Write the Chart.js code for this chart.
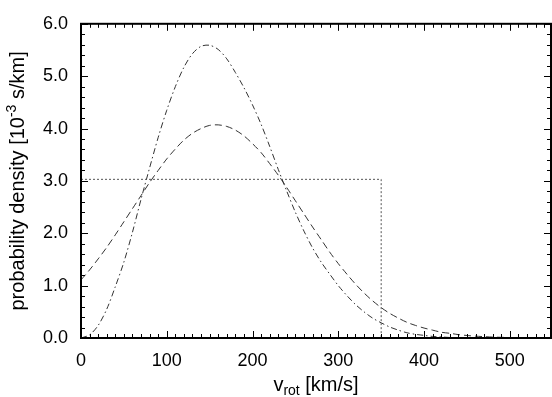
<!DOCTYPE html>
<html>
<head>
<meta charset="utf-8">
<script src="https://cdn.jsdelivr.net/npm/chart.js@4.4.0/dist/chart.umd.min.js"></script>
<style>
    html, body { margin: 0; padding: 0; background: #fff; }
    #wrap { width: 552px; height: 397px; position: relative; }
</style>
</head>
<body>
<div id="wrap"><canvas id="grafico"></canvas></div>
<script>
// ============================================================
//  DADOS (densidade em 10^-3 s/km)
// ============================================================

const velocidades = [0, 10, 20, 30, 40, 50, 60, 70, 80, 90,
    100, 110, 120, 130, 140, 150, 160, 170, 180, 190,
    200, 210, 220, 230, 240, 250, 260, 270, 280, 290,
    300, 310, 320, 330, 340, 350, 360, 370, 380, 390,
    400, 410, 420, 430, 440, 450, 460, 470, 480, 490, 500];

// curva tracejada (larga)
const densidadeLarga = [1.11, 1.30, 1.51, 1.73, 1.97, 2.22, 2.47, 2.72, 2.97, 3.20,
    3.42, 3.61, 3.78, 3.91, 4.00, 4.06, 4.07, 4.04, 3.97, 3.86,
    3.71, 3.54, 3.33, 3.11, 2.87, 2.62, 2.37, 2.12, 1.88, 1.64,
    1.42, 1.22, 1.03, 0.86, 0.71, 0.58, 0.47, 0.38, 0.30, 0.24,
    0.19, 0.15, 0.11, 0.09, 0.065, 0.048, 0.035, 0.026, 0.018, 0.013, 0.009];

// curva traço-ponto (estreita)
const densidadeEstreita = [0.00, 0.06, 0.24, 0.55, 0.98, 1.45, 2.02, 2.65, 3.25, 3.83,
    4.35, 4.80, 5.17, 5.43, 5.57, 5.59, 5.51, 5.33, 5.07, 4.78,
    4.45, 4.08, 3.66, 3.22, 2.80, 2.40, 2.04, 1.72, 1.45, 1.22,
    1.00, 0.81, 0.64, 0.50, 0.38, 0.29, 0.21, 0.15, 0.10, 0.07,
    0.05, 0.03, 0.02, 0.01, 0.005, 0.0, 0.0, 0.0, 0.0, 0.0, 0.0];

// distribuição uniforme (pontilhada)
const caixaX = [0, 350, 350];
const caixaY = [3.03, 3.03, 0];

const ticksX = [0, 100, 200, 300, 400, 500];
const ticksY = [0, 1, 2, 3, 4, 5, 6];

// ============================================================
//  PLUGIN: moldura, marcas internas e títulos dos eixos
// ============================================================

const moldura = {
    id: 'moldura',
    afterDraw(chart) {
        const { ctx, chartArea: a, scales: { x, y } } = chart;
        ctx.save();
        ctx.strokeStyle = '#000';
        ctx.lineWidth = 1;

        const linha = (x1, y1, x2, y2) => {
            ctx.beginPath();
            ctx.moveTo(x1, y1);
            ctx.lineTo(x2, y2);
            ctx.stroke();
        };

        // marcas do eixo x (a cada 10, maiores a cada 100)
        for (let v = 0; v <= x.max; v += 10) {
            const px = Math.round(x.getPixelForValue(v)) + 0.5;
            const len = v % 100 === 0 ? 7 : 4;
            linha(px, a.bottom, px, a.bottom - len);
            linha(px, a.top, px, a.top + len);
        }
        // marcas do eixo y (a cada 0.2, maiores a cada 1.0)
        for (let i = 0; i <= 30; i++) {
            const py = Math.round(y.getPixelForValue(i * 0.2)) + 0.5;
            const len = i % 5 === 0 ? 7 : 4;
            linha(a.left, py, a.left + len, py);
            linha(a.right, py, a.right - len, py);
        }

        ctx.lineWidth = 2;
        ctx.strokeRect(a.left, a.top, a.right - a.left, a.bottom - a.top);

        // título do eixo x: v_rot [km/s]
        ctx.fillStyle = '#000';
        ctx.textBaseline = 'alphabetic';
        ctx.textAlign = 'left';
        const fTit = '20px "Liberation Sans", Arial, sans-serif';
        const fInd = '14px "Liberation Sans", Arial, sans-serif';
        ctx.font = fTit;
        const wV = ctx.measureText('v').width;
        const wK = ctx.measureText(' [km/s]').width;
        ctx.font = fInd;
        const wR = ctx.measureText('rot').width;
        let sx = (a.left + a.right) / 2 - (wV + wR + wK) / 2;
        const base = 391;
        ctx.font = fTit;
        ctx.fillText('v', sx, base);
        ctx.font = fInd;
        ctx.fillText('rot', sx + wV, base + 4);
        ctx.font = fTit;
        ctx.fillText(' [km/s]', sx + wV + wR, base);

        // título do eixo y: probability density [10^-3 s/km]
        ctx.save();
        ctx.translate(24, (a.top + a.bottom) / 2);
        ctx.rotate(-Math.PI / 2);
        ctx.font = fTit;
        const p1 = 'probability density [10';
        const p3 = ' s/km]';
        const w1 = ctx.measureText(p1).width;
        const w3 = ctx.measureText(p3).width;
        ctx.font = fInd;
        const w2 = ctx.measureText('-3').width;
        let ty = -(w1 + w2 + w3) / 2;
        ctx.font = fTit;
        ctx.fillText(p1, ty, 0);
        ctx.font = fInd;
        ctx.fillText('-3', ty + w1, -8);
        ctx.font = fTit;
        ctx.fillText(p3, ty + w1 + w2, 0);
        ctx.restore();

        ctx.restore();
    }
};

// ============================================================
//  GRÁFICO
// ============================================================

Chart.defaults.font.family = '"Liberation Sans", Arial, sans-serif';
Chart.defaults.color = '#000';

const pontos = (xs, ys) => xs.map((v, i) => ({ x: v, y: ys[i] }));

new Chart(document.getElementById('grafico'), {
    type: 'line',
    data: {
        datasets: [
            {
                label: 'uniforme',
                data: pontos(caixaX, caixaY),
                borderColor: '#555',
                borderWidth: 1,
                borderDash: [2, 2],
                pointRadius: 0,
                tension: 0
            },
            {
                label: 'larga',
                data: pontos(velocidades, densidadeLarga),
                borderColor: '#333',
                borderWidth: 1,
                borderDash: [7, 4],
                pointRadius: 0,
                tension: 0.3
            },
            {
                label: 'estreita',
                data: pontos(velocidades, densidadeEstreita),
                borderColor: '#333',
                borderWidth: 1,
                borderDash: [6, 3, 1.5, 3],
                pointRadius: 0,
                tension: 0.3
            }
        ]
    },
    options: {
        responsive: true,
        maintainAspectRatio: false,
        animation: false,
        layout: { padding: { top: 6, right: 1, left: 0, bottom: 0 } },
        plugins: {
            legend: { display: false },
            tooltip: { enabled: false }
        },
        scales: {
            x: {
                type: 'linear',
                min: 0,
                max: 548,
                grid: { display: false, drawTicks: false },
                border: { display: false },
                afterBuildTicks: s => { s.ticks = ticksX.map(v => ({ value: v })); },
                afterFit: s => { s.height = 59; },
                ticks: {
                    font: { size: 18 },
                    padding: 12,
                    maxRotation: 0,
                    callback: v => String(v)
                }
            },
            y: {
                min: 0,
                max: 6,
                grid: { display: false, drawTicks: false },
                border: { display: false },
                afterBuildTicks: s => { s.ticks = ticksY.map(v => ({ value: v })); },
                afterFit: s => { s.width = 81; },
                ticks: {
                    font: { size: 18 },
                    padding: 13,
                    callback: v => Number(v).toFixed(1)
                }
            }
        }
    },
    plugins: [moldura]
});
</script>
</body>
</html>
